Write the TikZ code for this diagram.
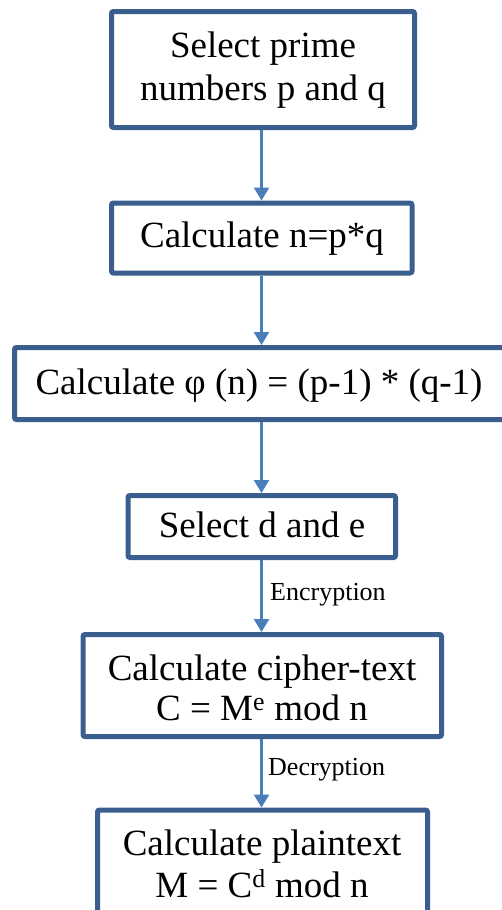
\documentclass[tikz,border=0pt]{standalone}
\usepackage{fontspec}
\setmainfont{Liberation Serif}
\usetikzlibrary{arrows.meta}

\definecolor{boxline}{RGB}{58,95,142}
\definecolor{arrowline}{RGB}{74,126,187}

\tikzset{
  stepbox/.style={draw=boxline, line width=5pt, rounded corners=2pt, fill=white,
    inner sep=0pt},
  steptext/.style={anchor=base, inner sep=0pt, align=center,
    font=\fontsize{37}{42}\selectfont},
  flow/.style={draw=arrowline, line width=2.5pt,
    -{Triangle[width=15pt,length=13pt]}},
  flowlabel/.style={anchor=base west, inner sep=0pt,
    font=\fontsize{26}{30}\selectfont},
}

\begin{document}
\begin{tikzpicture}[x=1pt, y=-1pt]
  \useasboundingbox (0,0) rectangle (502,910);
  \clip (0,0) rectangle (502,910);

  % column of the connectors
  \coordinate (ax) at (261.5,0);

  % process boxes
  \node[stepbox, minimum width=303pt,   minimum height=116pt] (b1) at (263,69.5) {};
  \node[stepbox, minimum width=300.5pt, minimum height=70pt]  (b2) at (261.75,238) {};
  \node[stepbox, minimum width=490.5pt, minimum height=72pt]  (b3) at (259.75,383.5) {};
  \node[stepbox, minimum width=267.5pt, minimum height=62pt]  (b4) at (261.75,526.5) {};
  \node[stepbox, minimum width=358.5pt, minimum height=102pt] (b5) at (262.25,685.5) {};
  \node[stepbox, minimum width=330pt,   minimum height=116pt] (b6) at (262.5,868) {};

  % box texts (multi-line texts are anchored at the baseline of their last line)
  \node[steptext, font=\fontsize{37}{43}\selectfont] (t1) at (263,100) {Select prime\\numbers p and q};
  \node[steptext] (t2) at (262,247.5) {Calculate n=p*q};
  \node[steptext] (t3) at (259,394) {Calculate φ (n) = (p-1) * (q-1)};
  \node[steptext] (t4) at (262,537.5) {Select d and e};
  \node[steptext, font=\fontsize{37}{40}\selectfont] (t5) at (262,720) {Calculate cipher-text\\C = M\textsuperscript{e} mod n};
  \node[steptext] (t6) at (262,897) {Calculate plaintext\\M = C\textsuperscript{d} mod n};

  % connectors
  \draw[flow] (b1.south -| ax) -- (b2.north -| ax);
  \draw[flow] (b2.south -| ax) -- (b3.north -| ax);
  \draw[flow] (b3.south -| ax) -- (b4.north -| ax);
  \draw[flow] (b4.south -| ax) -- (b5.north -| ax);
  \draw[flow] (b5.south -| ax) -- (b6.north -| ax);

  % connector labels
  \node[flowlabel] (enc) at (270,600) {Encryption};
  \node[flowlabel] (dec) at (268,775) {Decryption};
\end{tikzpicture}
\end{document}
